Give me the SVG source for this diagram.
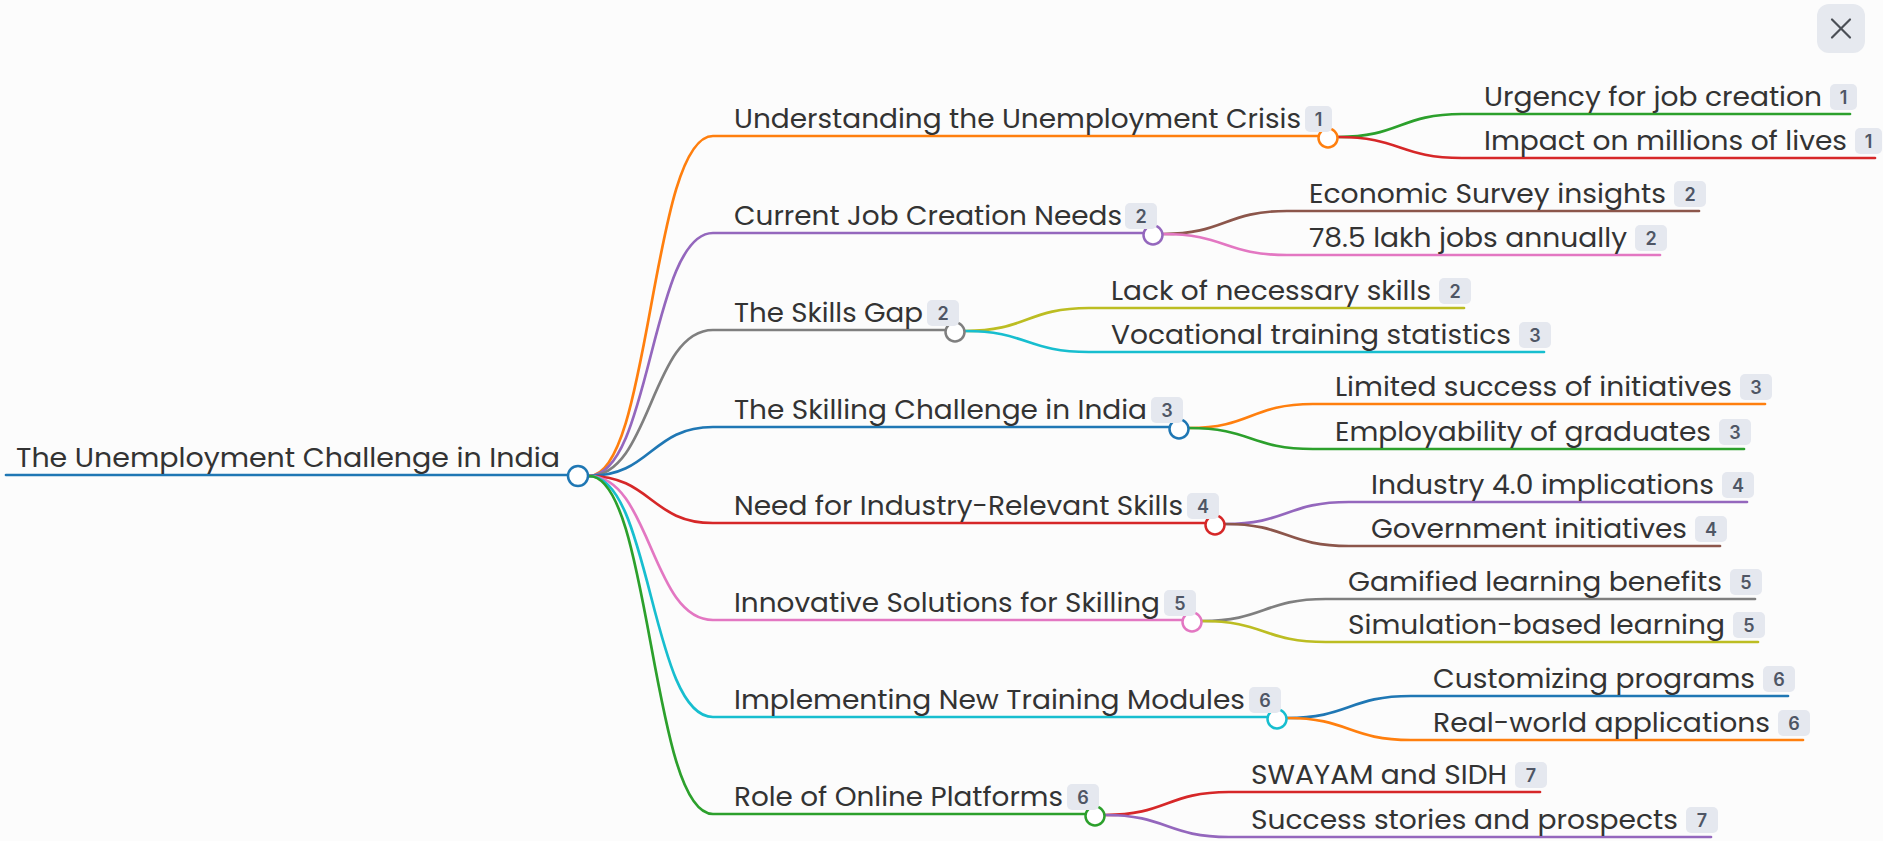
<svg xmlns="http://www.w3.org/2000/svg" width="1883" height="841" viewBox="0 0 1883 841">
  <style>
    .bg { fill: #fcfcfc; }
    .lbl { font-family: "Poppins", "Open Sans", "Liberation Sans", sans-serif; font-size: 26px; fill: #333333; }
    .badge rect { fill: #e5e8ef; }
    .badge text { font-family: "Inter", "Open Sans", "Liberation Sans", sans-serif; font-size: 18px; font-weight: 600; fill: #4f5665; text-anchor: middle; }
    .link { fill: none; stroke-width: 2.7; stroke-linecap: round; }
    .dot { fill: #ffffff; stroke-width: 2.5; }
    .close rect { fill: #e6e9ef; }
    .close line { stroke: #4b4f56; stroke-width: 2.2; stroke-linecap: round; }
  </style>

  <rect class="bg" x="0" y="0" width="1883" height="841"/>

  <!-- connectors: root to topics, topics to sub-points -->
  <g id="connectors">
    <path class="link" stroke="#ff7f0e" d="M589,476 C651,476 651,136 713,136 H1328"/>
    <path class="link" stroke="#9467bd" d="M589,476 C651,476 651,233 713,233 H1153"/>
    <path class="link" stroke="#7f7f7f" d="M589,476 C651,476 651,330 713,330 H955"/>
    <path class="link" stroke="#1f77b4" d="M589,476 C651,476 651,427 713,427 H1179"/>
    <path class="link" stroke="#d62728" d="M589,476 C651,476 651,523 713,523 H1215"/>
    <path class="link" stroke="#e377c2" d="M589,476 C651,476 651,620 713,620 H1192"/>
    <path class="link" stroke="#17becf" d="M589,476 C651,476 651,717 713,717 H1277"/>
    <path class="link" stroke="#2ca02c" d="M589,476 C651,476 651,814 713,814 H1095"/>

    <path class="link" stroke="#2ca02c" d="M1338,137 C1400,137 1400,114 1462,114 H1850"/>
    <path class="link" stroke="#d62728" d="M1338,137 C1400,137 1400,158 1462,158 H1875"/>
    <path class="link" stroke="#8c564b" d="M1163,234 C1225,234 1225,211 1287,211 H1699"/>
    <path class="link" stroke="#e377c2" d="M1163,234 C1225,234 1225,255 1287,255 H1660"/>
    <path class="link" stroke="#bcbd22" d="M965,331 C1027,331 1027,308 1089,308 H1464"/>
    <path class="link" stroke="#17becf" d="M965,331 C1027,331 1027,352 1089,352 H1544"/>
    <path class="link" stroke="#ff7f0e" d="M1189,428 C1251,428 1251,404 1313,404 H1765"/>
    <path class="link" stroke="#2ca02c" d="M1189,428 C1251,428 1251,449 1313,449 H1744"/>
    <path class="link" stroke="#9467bd" d="M1225,524 C1287,524 1287,502 1349,502 H1747"/>
    <path class="link" stroke="#8c564b" d="M1225,524 C1287,524 1287,546 1349,546 H1720"/>
    <path class="link" stroke="#7f7f7f" d="M1202,621 C1264,621 1264,599 1326,599 H1755"/>
    <path class="link" stroke="#bcbd22" d="M1202,621 C1264,621 1264,642 1326,642 H1758"/>
    <path class="link" stroke="#1f77b4" d="M1287,718 C1349,718 1349,696 1411,696 H1788"/>
    <path class="link" stroke="#ff7f0e" d="M1287,718 C1349,718 1349,740 1411,740 H1803"/>
    <path class="link" stroke="#d62728" d="M1105,815 C1167,815 1167,792 1229,792 H1540"/>
    <path class="link" stroke="#9467bd" d="M1105,815 C1167,815 1167,837 1229,837 H1711"/>
  </g>

  <!-- root -->
  <g id="root">
    <path class="link" stroke="#1f77b4" stroke-width="3" d="M6,475 H578"/>
    <text class="lbl" x="16" y="467" textLength="544" lengthAdjust="spacingAndGlyphs">The Unemployment Challenge in India</text>
    <circle class="dot" stroke="#1f77b4" cx="578" cy="476" r="10"/>
  </g>

  <!-- topics -->
  <g id="topic-1">
    <text class="lbl" x="734" y="128" textLength="567" lengthAdjust="spacingAndGlyphs">Understanding the Unemployment Crisis</text>
    <circle class="dot" stroke="#ff7f0e" cx="1328" cy="138" r="9.5"/>
    <g class="badge"><rect x="1305" y="106" width="27" height="26" rx="5"/><text x="1318.5" y="126">1</text></g>
  </g>
  <g id="topic-2">
    <text class="lbl" x="734" y="225" textLength="388" lengthAdjust="spacingAndGlyphs">Current Job Creation Needs</text>
    <circle class="dot" stroke="#9467bd" cx="1153" cy="235" r="9.5"/>
    <g class="badge"><rect x="1125" y="203" width="32" height="26" rx="5"/><text x="1141" y="223">2</text></g>
  </g>
  <g id="topic-3">
    <text class="lbl" x="734" y="322" textLength="189" lengthAdjust="spacingAndGlyphs">The Skills Gap</text>
    <circle class="dot" stroke="#7f7f7f" cx="955" cy="332" r="9.5"/>
    <g class="badge"><rect x="927" y="300" width="32" height="26" rx="5"/><text x="943" y="320">2</text></g>
  </g>
  <g id="topic-4">
    <text class="lbl" x="734" y="419" textLength="413" lengthAdjust="spacingAndGlyphs">The Skilling Challenge in India</text>
    <circle class="dot" stroke="#1f77b4" cx="1179" cy="429" r="9.5"/>
    <g class="badge"><rect x="1151" y="397" width="32" height="26" rx="5"/><text x="1167" y="417">3</text></g>
  </g>
  <g id="topic-5">
    <text class="lbl" x="734" y="515" textLength="449" lengthAdjust="spacingAndGlyphs">Need for Industry-Relevant Skills</text>
    <circle class="dot" stroke="#d62728" cx="1215" cy="525" r="9.5"/>
    <g class="badge"><rect x="1187" y="493" width="32" height="26" rx="5"/><text x="1203" y="513">4</text></g>
  </g>
  <g id="topic-6">
    <text class="lbl" x="734" y="612" textLength="426" lengthAdjust="spacingAndGlyphs">Innovative Solutions for Skilling</text>
    <circle class="dot" stroke="#e377c2" cx="1192" cy="622" r="9.5"/>
    <g class="badge"><rect x="1164" y="590" width="32" height="26" rx="5"/><text x="1180" y="610">5</text></g>
  </g>
  <g id="topic-7">
    <text class="lbl" x="734" y="709" textLength="511" lengthAdjust="spacingAndGlyphs">Implementing New Training Modules</text>
    <circle class="dot" stroke="#17becf" cx="1277" cy="719" r="9.5"/>
    <g class="badge"><rect x="1249" y="687" width="32" height="26" rx="5"/><text x="1265" y="707">6</text></g>
  </g>
  <g id="topic-8">
    <text class="lbl" x="734" y="806" textLength="329" lengthAdjust="spacingAndGlyphs">Role of Online Platforms</text>
    <circle class="dot" stroke="#2ca02c" cx="1095" cy="816" r="9.5"/>
    <g class="badge"><rect x="1067" y="784" width="32" height="26" rx="5"/><text x="1083" y="804">6</text></g>
  </g>

  <!-- sub-points -->
  <g id="point-1a">
    <text class="lbl" x="1484" y="106" textLength="338" lengthAdjust="spacingAndGlyphs">Urgency for job creation</text>
    <g class="badge"><rect x="1830" y="84" width="27" height="26" rx="5"/><text x="1843.5" y="104">1</text></g>
  </g>
  <g id="point-1b">
    <text class="lbl" x="1484" y="150" textLength="363" lengthAdjust="spacingAndGlyphs">Impact on millions of lives</text>
    <g class="badge"><rect x="1855" y="128" width="27" height="26" rx="5"/><text x="1868.5" y="148">1</text></g>
  </g>
  <g id="point-2a">
    <text class="lbl" x="1309" y="203" textLength="357" lengthAdjust="spacingAndGlyphs">Economic Survey insights</text>
    <g class="badge"><rect x="1674" y="181" width="32" height="26" rx="5"/><text x="1690" y="201">2</text></g>
  </g>
  <g id="point-2b">
    <text class="lbl" x="1309" y="247" textLength="318" lengthAdjust="spacingAndGlyphs">78.5 lakh jobs annually</text>
    <g class="badge"><rect x="1635" y="225" width="32" height="26" rx="5"/><text x="1651" y="245">2</text></g>
  </g>
  <g id="point-3a">
    <text class="lbl" x="1111" y="300" textLength="320" lengthAdjust="spacingAndGlyphs">Lack of necessary skills</text>
    <g class="badge"><rect x="1439" y="278" width="32" height="26" rx="5"/><text x="1455" y="298">2</text></g>
  </g>
  <g id="point-3b">
    <text class="lbl" x="1111" y="344" textLength="400" lengthAdjust="spacingAndGlyphs">Vocational training statistics</text>
    <g class="badge"><rect x="1519" y="322" width="32" height="26" rx="5"/><text x="1535" y="342">3</text></g>
  </g>
  <g id="point-4a">
    <text class="lbl" x="1335" y="396" textLength="397" lengthAdjust="spacingAndGlyphs">Limited success of initiatives</text>
    <g class="badge"><rect x="1740" y="374" width="32" height="26" rx="5"/><text x="1756" y="394">3</text></g>
  </g>
  <g id="point-4b">
    <text class="lbl" x="1335" y="441" textLength="376" lengthAdjust="spacingAndGlyphs">Employability of graduates</text>
    <g class="badge"><rect x="1719" y="419" width="32" height="26" rx="5"/><text x="1735" y="439">3</text></g>
  </g>
  <g id="point-5a">
    <text class="lbl" x="1371" y="494" textLength="343" lengthAdjust="spacingAndGlyphs">Industry 4.0 implications</text>
    <g class="badge"><rect x="1722" y="472" width="32" height="26" rx="5"/><text x="1738" y="492">4</text></g>
  </g>
  <g id="point-5b">
    <text class="lbl" x="1371" y="538" textLength="316" lengthAdjust="spacingAndGlyphs">Government initiatives</text>
    <g class="badge"><rect x="1695" y="516" width="32" height="26" rx="5"/><text x="1711" y="536">4</text></g>
  </g>
  <g id="point-6a">
    <text class="lbl" x="1348" y="591" textLength="374" lengthAdjust="spacingAndGlyphs">Gamified learning benefits</text>
    <g class="badge"><rect x="1730" y="569" width="32" height="26" rx="5"/><text x="1746" y="589">5</text></g>
  </g>
  <g id="point-6b">
    <text class="lbl" x="1348" y="634" textLength="377" lengthAdjust="spacingAndGlyphs">Simulation-based learning</text>
    <g class="badge"><rect x="1733" y="612" width="32" height="26" rx="5"/><text x="1749" y="632">5</text></g>
  </g>
  <g id="point-7a">
    <text class="lbl" x="1433" y="688" textLength="322" lengthAdjust="spacingAndGlyphs">Customizing programs</text>
    <g class="badge"><rect x="1763" y="666" width="32" height="26" rx="5"/><text x="1779" y="686">6</text></g>
  </g>
  <g id="point-7b">
    <text class="lbl" x="1433" y="732" textLength="337" lengthAdjust="spacingAndGlyphs">Real-world applications</text>
    <g class="badge"><rect x="1778" y="710" width="32" height="26" rx="5"/><text x="1794" y="730">6</text></g>
  </g>
  <g id="point-8a">
    <text class="lbl" x="1251" y="784" textLength="256" lengthAdjust="spacingAndGlyphs">SWAYAM and SIDH</text>
    <g class="badge"><rect x="1515" y="762" width="32" height="26" rx="5"/><text x="1531" y="782">7</text></g>
  </g>
  <g id="point-8b">
    <text class="lbl" x="1251" y="829" textLength="427" lengthAdjust="spacingAndGlyphs">Success stories and prospects</text>
    <g class="badge"><rect x="1686" y="807" width="32" height="26" rx="5"/><text x="1702" y="827">7</text></g>
  </g>

  <!-- close button -->
  <g id="close-button" class="close">
    <rect x="1817" y="4" width="48" height="49" rx="12"/>
    <line x1="1832" y1="19.5" x2="1850" y2="37.5"/>
    <line x1="1850" y1="19.5" x2="1832" y2="37.5"/>
  </g>
</svg>
